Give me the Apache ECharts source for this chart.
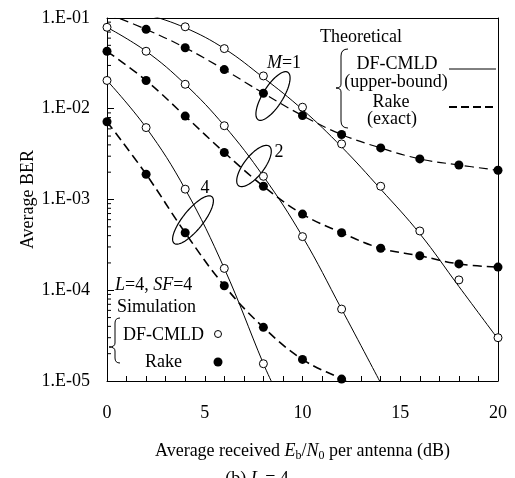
<!DOCTYPE html>
<html>
<head>
<meta charset="utf-8">
<script src="https://cdn.jsdelivr.net/npm/echarts@6/dist/echarts.min.js"></script>
<style>html,body{margin:0;padding:0;background:#fff}#c{width:515px;height:478px}</style>
</head>
<body>
<div id="c"></div>
<script>
// ---- Data (Eb/N0 in dB, average BER) ----
// Theoretical curves
const thDfM1X = [0, 2, 4, 6, 8, 10, 12, 14, 16, 18, 20];
const thDfM1  = [0.14, 0.11, 0.078, 0.046, 0.022, 0.0098, 0.0038, 0.0013, 0.00042, 0.00011, 2.9e-5];
const thRkM1X = [0, 2, 4, 6, 8, 10, 12, 14, 16, 18, 20];
const thRkM1  = [0.112, 0.075, 0.047, 0.027, 0.0148, 0.0084, 0.0052, 0.0037, 0.0028, 0.0024, 0.0021];
const thDfM2X = [0, 2, 4, 6, 8, 10, 12, 14];
const thDfM2  = [0.079, 0.043, 0.0186, 0.0065, 0.0018, 0.00039, 6.2e-5, 9.5e-6];
const thRkM2X = [0, 2, 4, 6, 8, 10, 12, 14, 16, 18, 20];
const thRkM2  = [0.043, 0.0205, 0.0083, 0.0033, 0.0014, 0.00069, 0.00043, 0.00029, 0.00024, 0.000195, 0.00018];
const thDfM4X = [0, 2, 4, 6, 8, 8.5];
const thDfM4  = [0.0205, 0.0062, 0.0013, 0.000174, 1.55e-5, 9e-6];
const thRkM4X = [0, 2, 4, 6, 8, 10, 12, 13];
const thRkM4  = [0.0072, 0.0019, 0.00043, 0.000112, 3.9e-5, 1.73e-5, 1.05e-5, 8e-6];
// Simulation points
const simDfM1X = [4, 6, 8, 10, 12, 14, 16, 18, 20];
const simDfM1  = [0.08, 0.046, 0.023, 0.0104, 0.0041, 0.0014, 0.00045, 0.00013, 3.0e-5];
const simRkM1X = [2, 4, 6, 8, 10, 12, 14, 16, 18, 20];
const simRkM1  = [0.075, 0.047, 0.027, 0.0148, 0.0084, 0.0052, 0.0037, 0.0028, 0.0024, 0.0021];
const simDfM2X = [0, 2, 4, 6, 8, 10, 12];
const simDfM2  = [0.079, 0.043, 0.0186, 0.0065, 0.0018, 0.00039, 6.2e-5];
const simRkM2X = [0, 2, 4, 6, 8, 10, 12, 14, 16, 18, 20];
const simRkM2  = [0.043, 0.0205, 0.0083, 0.0033, 0.0014, 0.00069, 0.00043, 0.00029, 0.00024, 0.000195, 0.00018];
const simDfM4X = [0, 2, 4, 6, 8];
const simDfM4  = [0.0205, 0.0062, 0.0013, 0.000174, 1.55e-5];
const simRkM4X = [0, 2, 4, 6, 8, 10, 12];
const simRkM4  = [0.0072, 0.0019, 0.00043, 0.000112, 3.9e-5, 1.73e-5, 1.05e-5];
// Axis ticks
const xTickLabels = ['0', '5', '10', '15', '20'];
const yMinorTickValues = [];
[1e-5, 1e-4, 1e-3, 1e-2].forEach(d => { for (let k = 2; k <= 9; k++) yMinorTickValues.push(+(k * d).toPrecision(3)); });

const FONT = "'Liberation Serif', 'Times New Roman', serif";
const zip = (xs, ys) => xs.map((x, i) => [x, ys[i]]);

function theory(xs, ys, dashed, w) {
  return {
    type: 'line', data: zip(xs, ys), showSymbol: false, symbol: 'none',
    smooth: 0.4, silent: true, clip: true,
    lineStyle: dashed ? { color: '#000', width: w || 1.5, type: [9, 5] } : { color: '#000', width: 1 },
    z: 2
  };
}
function sim(xs, ys, filled) {
  return {
    type: 'scatter', data: zip(xs, ys), symbol: 'circle', symbolSize: filled ? 9 : 8,
    itemStyle: filled ? { color: '#000', borderColor: '#000', borderWidth: 0, opacity: 1 } : { color: '#fff', borderColor: '#000', borderWidth: 1, opacity: 1 },
    silent: true, clip: false, z: 5
  };
}
// annotation helpers (pixel-space decorations)
function brace(xr, xm, xt, y0, ym, y1) {
  const ln = { stroke: '#000', fill: null, lineWidth: 1 };
  const r = xr - xm;
  return [
    { type: 'bezierCurve', shape: { x1: xr, y1: y0, cpx1: xm, cpy1: y0, x2: xm, y2: y0 + r }, style: ln },
    { type: 'line', shape: { x1: xm, y1: y0 + r, x2: xm, y2: ym - 4 }, style: ln },
    { type: 'bezierCurve', shape: { x1: xm, y1: ym - 4, cpx1: xm, cpy1: ym, x2: xt, y2: ym }, style: ln },
    { type: 'bezierCurve', shape: { x1: xt, y1: ym, cpx1: xm, cpy1: ym, x2: xm, y2: ym + 4 }, style: ln },
    { type: 'line', shape: { x1: xm, y1: ym + 4, x2: xm, y2: y1 - r }, style: ln },
    { type: 'bezierCurve', shape: { x1: xm, y1: y1 - r, cpx1: xm, cpy1: y1, x2: xr, y2: y1 }, style: ln }
  ];
}
function ellipse(cx, cy, rx, ry, deg) {
  const a = -deg * Math.PI / 180, pts = [];
  for (let k = 0; k < 72; k++) {
    const t = k / 72 * 2 * Math.PI, ex = rx * Math.cos(t), ey = ry * Math.sin(t);
    pts.push([cx + ex * Math.cos(a) - ey * Math.sin(a), cy + ex * Math.sin(a) + ey * Math.cos(a)]);
  }
  return { type: 'polygon', shape: { points: pts }, style: { stroke: '#000', fill: null, lineWidth: 1.2 } };
}
const txt = (text, x, y, align, extra) => ({ type: 'text', style: Object.assign({ text, x, y, align: align || 'center', verticalAlign: 'middle', fontFamily: FONT, fontSize: 18, fill: '#000',
  rich: { i: { fontFamily: FONT, fontSize: 18, fontStyle: 'italic', fill: '#000' } } }, extra || {}) });

const chart = echarts.init(document.getElementById('c'), null, { renderer: 'canvas' });

const frameAxis = { show: true, axisLine: { show: true, onZero: false, lineStyle: { color: '#000', width: 1 } }, axisTick: { show: false }, axisLabel: { show: false }, splitLine: { show: false } };

const option = {
  animation: false,
  backgroundColor: '#fff',
  textStyle: { fontFamily: FONT, color: '#000' },
  grid: { left: 107, right: 17, top: 18, bottom: 97 },
  xAxis: [{
    type: 'value', min: 0, max: 20, interval: 5,
    axisLine: { show: true, onZero: false, lineStyle: { color: '#000', width: 1 } },
    axisTick: { show: true, inside: true, length: 5, lineStyle: { color: '#000' } },
    minorTick: { show: true, splitNumber: 5, length: 5, lineStyle: { color: '#000' } },
    splitLine: { show: false },
    axisLabel: { margin: 23, fontFamily: FONT, fontSize: 18, color: '#000',
      formatter: v => xTickLabels[Math.round(v / 5)] },
    name: 'Average received {i|E}{sub|b}/{i|N}{sub|0} per antenna (dB)',
    nameLocation: 'middle', nameGap: 60,
    nameTextStyle: {
      fontFamily: FONT, fontSize: 18, color: '#000',
      rich: {
        i: { fontFamily: FONT, fontSize: 18, fontStyle: 'italic', color: '#000' },
        sub: { fontFamily: FONT, fontSize: 12, color: '#000', padding: [9, 0, 0, 0] }
      }
    }
  }, Object.assign({ type: 'value', position: 'top', min: 0, max: 20 }, frameAxis)],
  yAxis: [{
    type: 'log', logBase: 10, min: 1e-5, max: 0.1, interval: 1,
    axisLine: { show: true, onZero: false, lineStyle: { color: '#000', width: 1 } },
    axisTick: { show: true, inside: true, length: 7, lineStyle: { color: '#000' } },
    splitLine: { show: false },
    axisLabel: { margin: 17, fontFamily: FONT, fontSize: 18, color: '#000',
      formatter: v => { const e = Math.round(Math.log10(v)); return '1.E-' + String(-e).padStart(2, '0'); } },
    name: 'Average BER', nameLocation: 'middle', nameGap: 70, nameMoveOverlap: false,
    nameTextStyle: { fontFamily: FONT, fontSize: 18, color: '#000' }
  }, Object.assign({ type: 'log', logBase: 10, position: 'right', min: 1e-5, max: 0.1 }, frameAxis)],
  series: [
    theory(thDfM1X, thDfM1, false),
    theory(thRkM1X, thRkM1, true, 1.2),
    theory(thDfM2X, thDfM2, false),
    theory(thRkM2X, thRkM2, true, 1.5),
    theory(thDfM4X, thDfM4, false),
    theory(thRkM4X, thRkM4, true, 1.6),
    sim(simDfM1X, simDfM1, false),
    sim(simRkM1X, simRkM1, true),
    sim(simDfM2X, simDfM2, false),
    sim(simRkM2X, simRkM2, true),
    sim(simDfM4X, simDfM4, false),
    sim(simRkM4X, simRkM4, true),
    {
      type: 'custom', silent: true, clip: false, z: 3,
      data: yMinorTickValues.map(v => [0, v]),
      encode: { x: 0, y: 1 },
      renderItem: (params, api) => {
        const p = api.coord([api.value(0), api.value(1)]);
        return { type: 'line', shape: { x1: p[0], y1: p[1], x2: p[0] + 4, y2: p[1] }, style: { stroke: '#000', lineWidth: 1 } };
      }
    }
  ],
  graphic: [].concat(
    [
      txt('Theoretical', 361, 37),
      txt('DF-CMLD', 397, 64),
      txt('(upper-bound)', 396, 82),
      txt('Rake', 391, 102),
      txt('(exact)', 392, 119),
      { type: 'line', shape: { x1: 449, y1: 69, x2: 496, y2: 69 }, style: { stroke: '#000', lineWidth: 1 } },
      { type: 'line', shape: { x1: 449, y1: 107, x2: 497, y2: 107 }, style: { stroke: '#000', lineWidth: 2, lineDash: [8, 4] } },
      txt('{i|L}=4, {i|SF}=4', 115, 285, 'left'),
      txt('Simulation', 117, 307, 'left'),
      txt('DF-CMLD', 123, 335, 'left'),
      { type: 'circle', shape: { cx: 218, cy: 334, r: 3.5 }, style: { stroke: '#000', fill: '#fff', lineWidth: 1 } },
      txt('Rake', 145, 362, 'left'),
      { type: 'circle', shape: { cx: 218, cy: 362, r: 4.5 }, style: { fill: '#000' } },
      ellipse(273, 96, 28, 10, 58),
      txt('{i|M}=1', 284, 63),
      ellipse(254, 166, 25, 10, 52),
      txt('2', 279, 152),
      ellipse(193, 220, 30, 10, 51),
      txt('4', 205, 188),
      txt('(b) {i|L} = 4', 257, 470, 'center', { verticalAlign: 'top' })
    ],
    brace(348, 341, 336, 49, 88, 128),
    brace(120, 115, 109, 318, 347, 363)
  )
};
chart.setOption(option);
</script>
</body>
</html>
